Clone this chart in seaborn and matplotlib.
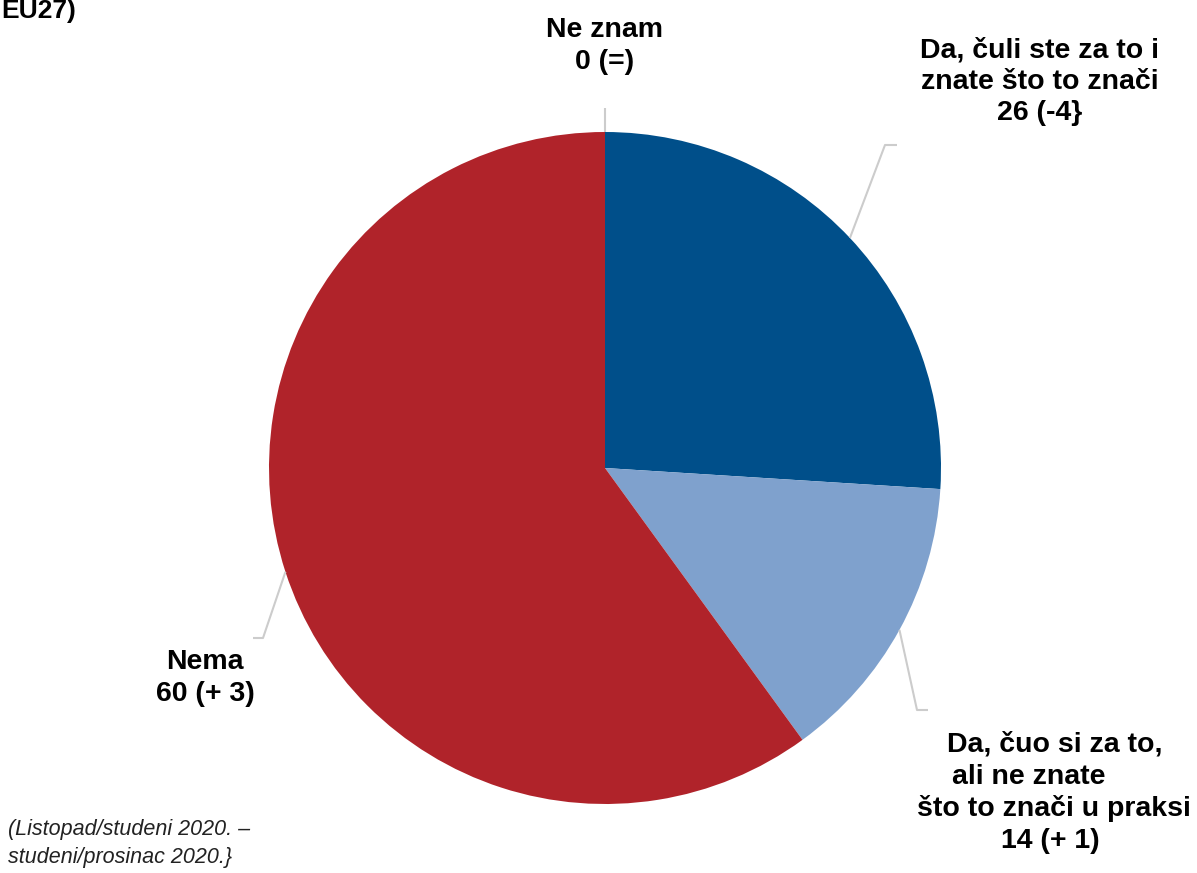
import numpy as np
import seaborn as sns
import matplotlib.pyplot as plt

# podaci
kategorije = ["Da, čuli ste za to i znate što to znači",
              "Da, čuo si za to, ali ne znate što to znači u praksi",
              "Nema", "Ne znam"]
vrijednosti = [26, 14, 60, 0]
promjene = ["(-4}", "(+ 1)", "(+ 3)", "(=)"]
boje = ["#004f8a", "#7fa1cd", "#b0232a", "#9a9a9a"]

sns.set_theme(style="white")
plt.rcParams['font.family'] = ['Liberation Sans', 'DejaVu Sans']

W, H = 1197, 873
fig = plt.figure(figsize=(W / 100, H / 100), dpi=100)
ax = fig.add_axes([0, 0, 1, 1])
ax.set_xlim(0, W)
ax.set_ylim(0, H)
ax.set_aspect('equal')
ax.axis('off')

cx, cy, r = 605, H - 468, 336
wedges, _ = ax.pie(vrijednosti, colors=boje, startangle=90, counterclock=False,
                   center=(cx, cy), radius=r, frame=True,
                   wedgeprops=dict(linewidth=0))
ax.set_xlim(0, W)
ax.set_ylim(0, H)
ax.axis('off')

# linije oznaka (od ruba do lakta, pa kratko vodoravno)
kumul = np.cumsum([0] + vrijednosti)
lakti = [((885, 145), 12), ((917, 710), 11), ((263, 638), -10), ((605, 108), 0)]
for i, ((ex, ey), dx) in enumerate(lakti):
    sred = 90 - (kumul[i] + vrijednosti[i] / 2) * 3.6
    sx = cx + r * np.cos(np.radians(sred))
    sy = cy + r * np.sin(np.radians(sred))
    ax.plot([sx, ex, ex + dx], [sy, H - ey, H - ey], color='#cccccc', lw=1.5,
            solid_capstyle='butt')

fs = 20.5
def t(x, y, s, **kw):
    ax.text(x, H - y, s, fontsize=kw.pop('size', fs), fontweight='bold', color='black',
            ha=kw.pop('ha', 'center'), va=kw.pop('va', 'center'), **kw)

t(605, 30, "Ne znam")
t(605, 62, f"{vrijednosti[3]} {promjene[3]}")

t(1040, 50, "Da, čuli ste za to i")
t(1040, 82, "znate što to znači")
t(1040, 113, f"{vrijednosti[0]} {promjene[0]}")

t(205, 662, "Nema")
t(205, 694, f"{vrijednosti[2]} {promjene[2]}")

t(1055, 745, "Da, čuo si za to,")
t(1029, 777, "ali ne znate")
t(1054, 809, "što to znači u praksi")
t(1050, 841, f"{vrijednosti[1]} {promjene[1]}")

t(1, 18, "EU27)", ha='left', va='baseline', size=19)

ax.text(8, H - 830, "(Listopad/studeni 2020. –", fontsize=15.5, style='italic',
        ha='left', va='center', color='#222222')
ax.text(8, H - 857, "studeni/prosinac 2020.}", fontsize=15.5, style='italic',
        ha='left', va='center', color='#222222')

fig.savefig("out.png", dpi=100)
